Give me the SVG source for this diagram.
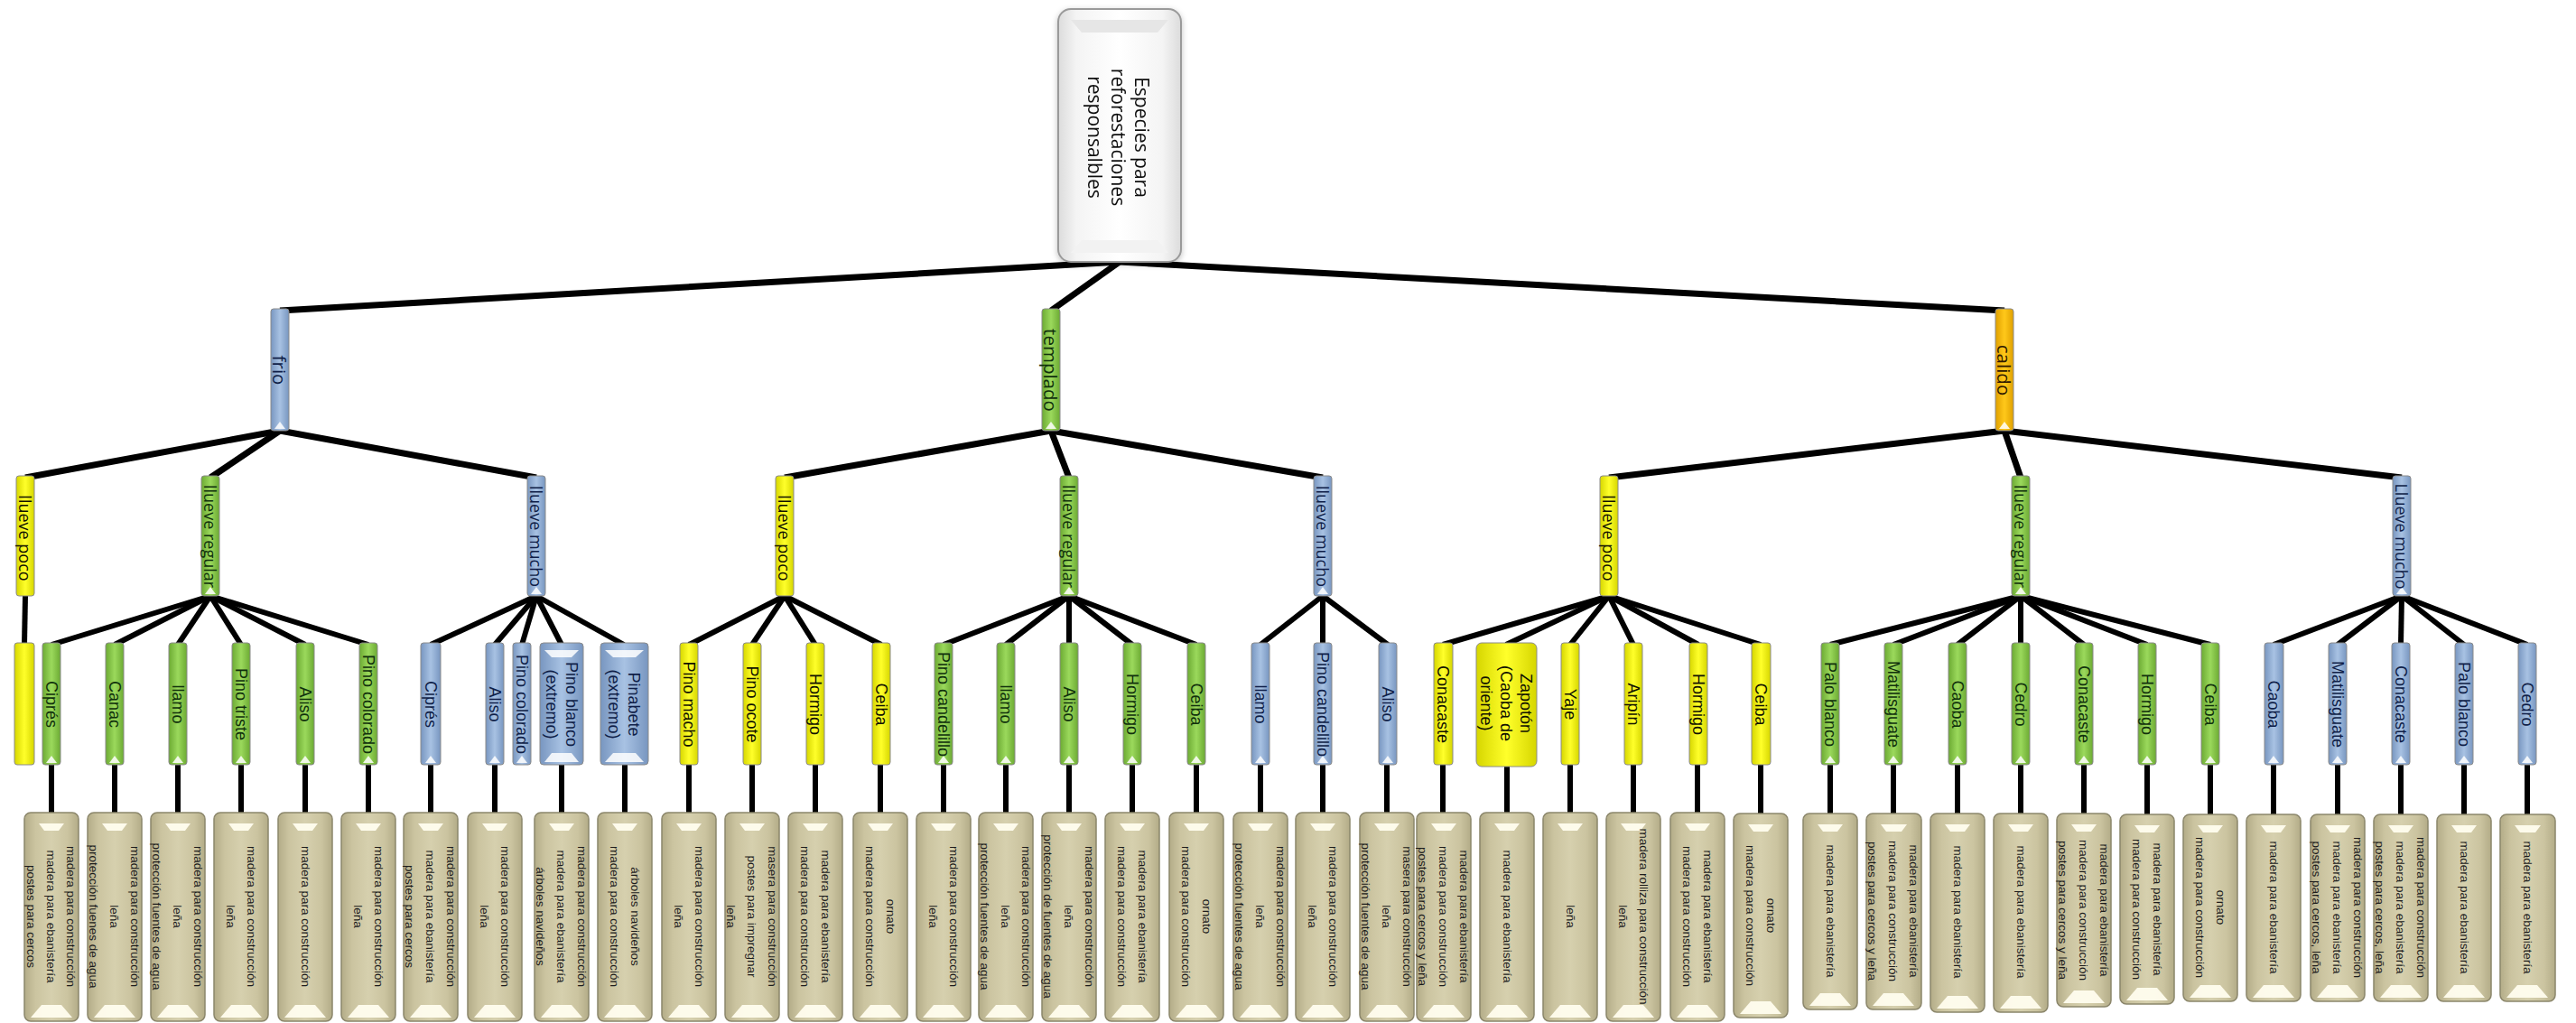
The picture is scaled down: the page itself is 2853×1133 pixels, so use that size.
<svg xmlns="http://www.w3.org/2000/svg" width="2853" height="1133" viewBox="0 0 2853 1133">
<defs>
<linearGradient id="gB" x1="0" y1="0" x2="1" y2="0"><stop offset="0" stop-color="#7896C0"/><stop offset="0.5" stop-color="#A8C2E3"/><stop offset="1" stop-color="#7896C0"/></linearGradient>
<linearGradient id="gG" x1="0" y1="0" x2="1" y2="0"><stop offset="0" stop-color="#6CAA33"/><stop offset="0.5" stop-color="#9BD95C"/><stop offset="1" stop-color="#6CAA33"/></linearGradient>
<linearGradient id="gY" x1="0" y1="0" x2="1" y2="0"><stop offset="0" stop-color="#D6D600"/><stop offset="0.5" stop-color="#FFFF2A"/><stop offset="1" stop-color="#D6D600"/></linearGradient>
<linearGradient id="gO" x1="0" y1="0" x2="1" y2="0"><stop offset="0" stop-color="#E0A000"/><stop offset="0.5" stop-color="#FFC81A"/><stop offset="1" stop-color="#E0A000"/></linearGradient>
<linearGradient id="gT" x1="0" y1="0" x2="1" y2="0"><stop offset="0" stop-color="#B3AC88"/><stop offset="0.2" stop-color="#CBC4A0"/><stop offset="0.5" stop-color="#D6D0AE"/><stop offset="0.8" stop-color="#CBC4A0"/><stop offset="1" stop-color="#B3AC88"/></linearGradient>
<linearGradient id="gR" x1="0" y1="0" x2="1" y2="0"><stop offset="0" stop-color="#DCDCDC"/><stop offset="0.15" stop-color="#F4F4F4"/><stop offset="0.5" stop-color="#FFFFFF"/><stop offset="0.85" stop-color="#F4F4F4"/><stop offset="1" stop-color="#DCDCDC"/></linearGradient>
<filter id="sh" x="-20%" y="-20%" width="140%" height="140%"><feDropShadow dx="0" dy="2" stdDeviation="3" flood-color="#000" flood-opacity="0.25"/></filter>
</defs>
<style>
.c1 line{stroke:#000;stroke-width:7}
.c2 line{stroke:#000;stroke-width:6}
.bar{stroke:#8a8a8a;stroke-width:1}
.b{fill:url(#gB)}.g{fill:url(#gG)}.y{fill:url(#gY)}.o{fill:url(#gO)}
.hl{fill:#FFFFFF;opacity:0.85}
.lf{fill:url(#gT);stroke:#8B866B;stroke-width:1.5}
.lh{fill:#FFFDEE;opacity:0.95}
.tx{text-anchor:middle;dominant-baseline:central}
.lt{font-family:"Liberation Sans",Arial,sans-serif;font-size:13.5px;fill:#1C1C1C}
.st{font-family:"Liberation Sans",Arial,sans-serif;font-size:18px}
.l2{font-family:"Open Sans",sans-serif;font-size:18px}
.l1{font-family:"Open Sans",sans-serif;font-size:20.5px}
.rt{font-family:"Open Sans",sans-serif;font-size:21px;fill:#111}
.tb{fill:#0F1E48}.tg{fill:#10300C}.ty{fill:#111100}.to{fill:#2E1800}
</style>

<g id="connectors">
<g class="c1">
<line x1="1240" y1="290" x2="310" y2="344"/>
<line x1="1240" y1="290" x2="1164" y2="344"/>
<line x1="1240" y1="290" x2="2220" y2="344"/>
<line x1="310" y1="477" x2="28" y2="529"/>
<line x1="310" y1="477" x2="233" y2="529"/>
<line x1="310" y1="477" x2="594" y2="529"/>
<line x1="1164" y1="477" x2="869" y2="529"/>
<line x1="1164" y1="477" x2="1184" y2="529"/>
<line x1="1164" y1="477" x2="1465" y2="529"/>
<line x1="2220" y1="477" x2="1782" y2="529"/>
<line x1="2220" y1="477" x2="2238" y2="529"/>
<line x1="2220" y1="477" x2="2660" y2="529"/>
</g>
<g class="c2">
<line x1="28" y1="660" x2="27" y2="714"/>
<line x1="233" y1="660" x2="57" y2="714"/>
<line x1="233" y1="660" x2="127" y2="714"/>
<line x1="233" y1="660" x2="197" y2="714"/>
<line x1="233" y1="660" x2="267" y2="714"/>
<line x1="233" y1="660" x2="338" y2="714"/>
<line x1="233" y1="660" x2="408" y2="714"/>
<line x1="594" y1="660" x2="477" y2="714"/>
<line x1="594" y1="660" x2="548" y2="714"/>
<line x1="594" y1="660" x2="578" y2="714"/>
<line x1="594" y1="660" x2="622" y2="714"/>
<line x1="594" y1="660" x2="691" y2="714"/>
<line x1="869" y1="660" x2="763" y2="714"/>
<line x1="869" y1="660" x2="833" y2="714"/>
<line x1="869" y1="660" x2="903" y2="714"/>
<line x1="869" y1="660" x2="976" y2="714"/>
<line x1="1184" y1="660" x2="1045" y2="714"/>
<line x1="1184" y1="660" x2="1114" y2="714"/>
<line x1="1184" y1="660" x2="1184" y2="714"/>
<line x1="1184" y1="660" x2="1254" y2="714"/>
<line x1="1184" y1="660" x2="1325" y2="714"/>
<line x1="1465" y1="660" x2="1396" y2="714"/>
<line x1="1465" y1="660" x2="1465" y2="714"/>
<line x1="1465" y1="660" x2="1537" y2="714"/>
<line x1="1782" y1="660" x2="1598" y2="714"/>
<line x1="1782" y1="660" x2="1668" y2="714"/>
<line x1="1782" y1="660" x2="1739" y2="714"/>
<line x1="1782" y1="660" x2="1809" y2="714"/>
<line x1="1782" y1="660" x2="1881" y2="714"/>
<line x1="1782" y1="660" x2="1950" y2="714"/>
<line x1="2238" y1="660" x2="2027" y2="714"/>
<line x1="2238" y1="660" x2="2097" y2="714"/>
<line x1="2238" y1="660" x2="2168" y2="714"/>
<line x1="2238" y1="660" x2="2238" y2="714"/>
<line x1="2238" y1="660" x2="2308" y2="714"/>
<line x1="2238" y1="660" x2="2378" y2="714"/>
<line x1="2238" y1="660" x2="2448" y2="714"/>
<line x1="2660" y1="660" x2="2518" y2="714"/>
<line x1="2660" y1="660" x2="2589" y2="714"/>
<line x1="2660" y1="660" x2="2659" y2="714"/>
<line x1="2660" y1="660" x2="2729" y2="714"/>
<line x1="2660" y1="660" x2="2799" y2="714"/>
<line x1="57" y1="846" x2="57" y2="902"/>
<line x1="127" y1="846" x2="127" y2="902"/>
<line x1="197" y1="846" x2="197" y2="902"/>
<line x1="267" y1="846" x2="267" y2="902"/>
<line x1="338" y1="846" x2="338" y2="902"/>
<line x1="408" y1="846" x2="408" y2="902"/>
<line x1="477" y1="846" x2="477" y2="902"/>
<line x1="548" y1="846" x2="548" y2="902"/>
<line x1="622" y1="846" x2="622" y2="902"/>
<line x1="692" y1="846" x2="692" y2="902"/>
<line x1="763" y1="846" x2="763" y2="902"/>
<line x1="833" y1="846" x2="833" y2="902"/>
<line x1="903" y1="846" x2="903" y2="902"/>
<line x1="975" y1="846" x2="975" y2="902"/>
<line x1="1045" y1="846" x2="1045" y2="902"/>
<line x1="1114" y1="846" x2="1114" y2="902"/>
<line x1="1184" y1="846" x2="1184" y2="902"/>
<line x1="1254" y1="846" x2="1254" y2="902"/>
<line x1="1325" y1="846" x2="1325" y2="902"/>
<line x1="1396" y1="846" x2="1396" y2="902"/>
<line x1="1465" y1="846" x2="1465" y2="902"/>
<line x1="1536" y1="846" x2="1536" y2="902"/>
<line x1="1598" y1="846" x2="1598" y2="902"/>
<line x1="1669" y1="846" x2="1669" y2="902"/>
<line x1="1739" y1="846" x2="1739" y2="902"/>
<line x1="1809" y1="846" x2="1809" y2="902"/>
<line x1="1880" y1="846" x2="1880" y2="902"/>
<line x1="1950" y1="846" x2="1950" y2="902"/>
<line x1="2027" y1="846" x2="2027" y2="902"/>
<line x1="2097" y1="846" x2="2097" y2="902"/>
<line x1="2168" y1="846" x2="2168" y2="902"/>
<line x1="2238" y1="846" x2="2238" y2="902"/>
<line x1="2308" y1="846" x2="2308" y2="902"/>
<line x1="2378" y1="846" x2="2378" y2="902"/>
<line x1="2448" y1="846" x2="2448" y2="902"/>
<line x1="2518" y1="846" x2="2518" y2="902"/>
<line x1="2589" y1="846" x2="2589" y2="902"/>
<line x1="2659" y1="846" x2="2659" y2="902"/>
<line x1="2729" y1="846" x2="2729" y2="902"/>
<line x1="2799" y1="846" x2="2799" y2="902"/>
</g>
</g>

<g id="root" filter="url(#sh)">
<rect x="1172" y="10" width="136" height="280" rx="14" fill="url(#gR)" stroke="#9A9A9A" stroke-width="2"/>
<polygon points="1186,22 1294,22 1282,36 1198,36" fill="#E6E6E6"/>
<polygon points="1198,266 1282,266 1294,280 1186,280" fill="#F2F2F2"/>
<text class="rt tx" transform="translate(1239,152) rotate(90)"><tspan x="0" y="-26">Especies para</tspan><tspan x="0" y="0">reforestaciones</tspan><tspan x="0" y="26">responsalbles</tspan></text>
</g>

<g id="frio"><rect class="bar b" x="300" y="342" width="20" height="135" rx="3"/><polygon class="hl" points="304,475 310,467 316,475"/><text class="l1 tx tb" transform="translate(310,410) rotate(90)">frio</text></g>
<g id="templado"><rect class="bar g" x="1154" y="342" width="20" height="135" rx="3"/><polygon class="hl" points="1158,475 1164,467 1170,475"/><text class="l1 tx tg" transform="translate(1164,410) rotate(90)">templado</text></g>
<g id="calido"><rect class="bar o" x="2210" y="342" width="20" height="135" rx="3"/><polygon class="hl" points="2214,475 2220,467 2226,475"/><text class="l1 tx to" transform="translate(2220,410) rotate(90)">calido</text></g>

<g id="frio-poco"><rect class="bar y" x="18" y="527" width="20" height="133" rx="3"/><text class="l2 tx ty" transform="translate(28,596) rotate(90)">llueve poco</text></g>
<g id="frio-regular"><rect class="bar g" x="223" y="527" width="20" height="133" rx="3"/><polygon class="hl" points="227,658 233,650 239,658"/><text class="l2 tx tg" transform="translate(233,594) rotate(90)">llueve regular</text></g>
<g id="frio-mucho"><rect class="bar b" x="584" y="527" width="20" height="133" rx="3"/><polygon class="hl" points="588,658 594,650 600,658"/><text class="l2 tx tb" transform="translate(594,594) rotate(90)">llueve mucho</text></g>
<g id="templado-poco"><rect class="bar y" x="859" y="527" width="20" height="133" rx="3"/><text class="l2 tx ty" transform="translate(869,596) rotate(90)">llueve poco</text></g>
<g id="templado-regular"><rect class="bar g" x="1174" y="527" width="20" height="133" rx="3"/><polygon class="hl" points="1178,658 1184,650 1190,658"/><text class="l2 tx tg" transform="translate(1184,594) rotate(90)">llueve regular</text></g>
<g id="templado-mucho"><rect class="bar b" x="1455" y="527" width="20" height="133" rx="3"/><polygon class="hl" points="1459,658 1465,650 1471,658"/><text class="l2 tx tb" transform="translate(1465,594) rotate(90)">llueve mucho</text></g>
<g id="calido-poco"><rect class="bar y" x="1772" y="527" width="20" height="133" rx="3"/><text class="l2 tx ty" transform="translate(1782,596) rotate(90)">llueve poco</text></g>
<g id="calido-regular"><rect class="bar g" x="2228" y="527" width="20" height="133" rx="3"/><polygon class="hl" points="2232,658 2238,650 2244,658"/><text class="l2 tx tg" transform="translate(2238,594) rotate(90)">llueve regular</text></g>
<g id="calido-mucho"><rect class="bar b" x="2650" y="527" width="20" height="133" rx="3"/><polygon class="hl" points="2654,658 2660,650 2666,658"/><text class="l2 tx tb" transform="translate(2660,594) rotate(90)">Llueve mucho</text></g>

<g id="s0"><rect class="bar y" x="16" y="712" width="22" height="135" rx="3"/></g>
<g id="s1"><rect class="bar g" x="47" y="712" width="20" height="135" rx="3"/><polygon class="hl" points="51,845 57,837 63,845"/><text class="st tx tg" transform="translate(57,780) rotate(90)">Ciprés</text></g>
<g id="s2"><rect class="bar g" x="117" y="712" width="20" height="135" rx="3"/><polygon class="hl" points="121,845 127,837 133,845"/><text class="st tx tg" transform="translate(127,780) rotate(90)">Canac</text></g>
<g id="s3"><rect class="bar g" x="187" y="712" width="20" height="135" rx="3"/><polygon class="hl" points="191,845 197,837 203,845"/><text class="st tx tg" transform="translate(197,780) rotate(90)">llamo</text></g>
<g id="s4"><rect class="bar g" x="257" y="712" width="20" height="135" rx="3"/><polygon class="hl" points="261,845 267,837 273,845"/><text class="st tx tg" transform="translate(267,780) rotate(90)">Pino triste</text></g>
<g id="s5"><rect class="bar g" x="328" y="712" width="20" height="135" rx="3"/><polygon class="hl" points="332,845 338,837 344,845"/><text class="st tx tg" transform="translate(338,780) rotate(90)">Aliso</text></g>
<g id="s6"><rect class="bar g" x="398" y="712" width="20" height="135" rx="3"/><polygon class="hl" points="402,845 408,837 414,845"/><text class="st tx tg" transform="translate(408,780) rotate(90)">Pino colorado</text></g>
<g id="s7"><rect class="bar b" x="466" y="712" width="22" height="135" rx="3"/><polygon class="hl" points="471,845 477,837 483,845"/><text class="st tx tb" transform="translate(477,780) rotate(90)">Ciprés</text></g>
<g id="s8"><rect class="bar b" x="538" y="712" width="20" height="135" rx="3"/><polygon class="hl" points="542,845 548,837 554,845"/><text class="st tx tb" transform="translate(548,780) rotate(90)">Aliso</text></g>
<g id="s9"><rect class="bar b" x="568" y="712" width="20" height="135" rx="3"/><polygon class="hl" points="572,845 578,837 584,845"/><text class="st tx tb" transform="translate(578,780) rotate(90)">Pino colorado</text></g>
<g id="s10"><rect class="bar b" x="598" y="712" width="48" height="135" rx="4"/><polygon class="hl" points="603,720 641,720 633,728 611,728"/><polygon class="hl" points="611,834 633,834 641,844 603,844"/><text class="st tx tb" transform="translate(622,780) rotate(90)"><tspan x="0" y="-11">Pino blanco</tspan><tspan x="0" y="11">(extremo)</tspan></text></g>
<g id="s11"><rect class="bar b" x="665" y="712" width="53" height="135" rx="4"/><polygon class="hl" points="670,720 713,720 704,728 679,728"/><polygon class="hl" points="679,834 704,834 713,844 670,844"/><text class="st tx tb" transform="translate(691,780) rotate(90)"><tspan x="0" y="-11">Pinabete</tspan><tspan x="0" y="11">(extremo)</tspan></text></g>
<g id="s12"><rect class="bar y" x="753" y="712" width="20" height="135" rx="3"/><text class="st tx ty" transform="translate(763,780) rotate(90)">Pino macho</text></g>
<g id="s13"><rect class="bar y" x="823" y="712" width="20" height="135" rx="3"/><text class="st tx ty" transform="translate(833,780) rotate(90)">Pino ocote</text></g>
<g id="s14"><rect class="bar y" x="893" y="712" width="20" height="135" rx="3"/><text class="st tx ty" transform="translate(903,780) rotate(90)">Hormigo</text></g>
<g id="s15"><rect class="bar y" x="966" y="712" width="20" height="135" rx="3"/><text class="st tx ty" transform="translate(976,780) rotate(90)">Ceiba</text></g>
<g id="s16"><rect class="bar g" x="1035" y="712" width="20" height="135" rx="3"/><polygon class="hl" points="1039,845 1045,837 1051,845"/><text class="st tx tg" transform="translate(1045,780) rotate(90)">Pino candelillo</text></g>
<g id="s17"><rect class="bar g" x="1104" y="712" width="20" height="135" rx="3"/><polygon class="hl" points="1108,845 1114,837 1120,845"/><text class="st tx tg" transform="translate(1114,780) rotate(90)">llamo</text></g>
<g id="s18"><rect class="bar g" x="1174" y="712" width="20" height="135" rx="3"/><polygon class="hl" points="1178,845 1184,837 1190,845"/><text class="st tx tg" transform="translate(1184,780) rotate(90)">Aliso</text></g>
<g id="s19"><rect class="bar g" x="1244" y="712" width="20" height="135" rx="3"/><polygon class="hl" points="1248,845 1254,837 1260,845"/><text class="st tx tg" transform="translate(1254,780) rotate(90)">Hormigo</text></g>
<g id="s20"><rect class="bar g" x="1315" y="712" width="20" height="135" rx="3"/><polygon class="hl" points="1319,845 1325,837 1331,845"/><text class="st tx tg" transform="translate(1325,780) rotate(90)">Ceiba</text></g>
<g id="s21"><rect class="bar b" x="1386" y="712" width="20" height="135" rx="3"/><polygon class="hl" points="1390,845 1396,837 1402,845"/><text class="st tx tb" transform="translate(1396,780) rotate(90)">llamo</text></g>
<g id="s22"><rect class="bar b" x="1455" y="712" width="20" height="135" rx="3"/><polygon class="hl" points="1459,845 1465,837 1471,845"/><text class="st tx tb" transform="translate(1465,780) rotate(90)">Pino candelillo</text></g>
<g id="s23"><rect class="bar b" x="1527" y="712" width="20" height="135" rx="3"/><polygon class="hl" points="1531,845 1537,837 1543,845"/><text class="st tx tb" transform="translate(1537,780) rotate(90)">Aliso</text></g>
<g id="s24"><rect class="bar y" x="1588" y="712" width="21" height="135" rx="3"/><text class="st tx ty" transform="translate(1598,780) rotate(90)">Conacaste</text></g>
<g id="s25"><rect class="bar y" x="1635" y="712" width="67" height="137" rx="6"/><text class="st tx ty" transform="translate(1668,779) rotate(90)"><tspan x="0" y="-22">Zapotón</tspan><tspan x="0" y="0">(Caoba de</tspan><tspan x="0" y="22">oriente)</tspan></text></g>
<g id="s26"><rect class="bar y" x="1729" y="712" width="20" height="135" rx="3"/><text class="st tx ty" transform="translate(1739,780) rotate(90)">Yaje</text></g>
<g id="s27"><rect class="bar y" x="1799" y="712" width="20" height="135" rx="3"/><text class="st tx ty" transform="translate(1809,780) rotate(90)">Aripín</text></g>
<g id="s28"><rect class="bar y" x="1871" y="712" width="20" height="135" rx="3"/><text class="st tx ty" transform="translate(1881,780) rotate(90)">Hormigo</text></g>
<g id="s29"><rect class="bar y" x="1940" y="712" width="21" height="135" rx="3"/><text class="st tx ty" transform="translate(1950,780) rotate(90)">Ceiba</text></g>
<g id="s30"><rect class="bar g" x="2017" y="712" width="20" height="135" rx="3"/><polygon class="hl" points="2021,845 2027,837 2033,845"/><text class="st tx tg" transform="translate(2027,780) rotate(90)">Palo blanco</text></g>
<g id="s31"><rect class="bar g" x="2087" y="712" width="20" height="135" rx="3"/><polygon class="hl" points="2091,845 2097,837 2103,845"/><text class="st tx tg" transform="translate(2097,780) rotate(90)">Matilisguate</text></g>
<g id="s32"><rect class="bar g" x="2158" y="712" width="20" height="135" rx="3"/><polygon class="hl" points="2162,845 2168,837 2174,845"/><text class="st tx tg" transform="translate(2168,780) rotate(90)">Caoba</text></g>
<g id="s33"><rect class="bar g" x="2228" y="712" width="20" height="135" rx="3"/><polygon class="hl" points="2232,845 2238,837 2244,845"/><text class="st tx tg" transform="translate(2238,780) rotate(90)">Cedro</text></g>
<g id="s34"><rect class="bar g" x="2298" y="712" width="20" height="135" rx="3"/><polygon class="hl" points="2302,845 2308,837 2314,845"/><text class="st tx tg" transform="translate(2308,780) rotate(90)">Conacaste</text></g>
<g id="s35"><rect class="bar g" x="2368" y="712" width="20" height="135" rx="3"/><polygon class="hl" points="2372,845 2378,837 2384,845"/><text class="st tx tg" transform="translate(2378,780) rotate(90)">Hormigo</text></g>
<g id="s36"><rect class="bar g" x="2438" y="712" width="20" height="135" rx="3"/><polygon class="hl" points="2442,845 2448,837 2454,845"/><text class="st tx tg" transform="translate(2448,780) rotate(90)">Ceiba</text></g>
<g id="s37"><rect class="bar b" x="2508" y="712" width="21" height="135" rx="3"/><polygon class="hl" points="2512,845 2518,837 2524,845"/><text class="st tx tb" transform="translate(2518,780) rotate(90)">Caoba</text></g>
<g id="s38"><rect class="bar b" x="2579" y="712" width="20" height="135" rx="3"/><polygon class="hl" points="2583,845 2589,837 2595,845"/><text class="st tx tb" transform="translate(2589,780) rotate(90)">Matilisguate</text></g>
<g id="s39"><rect class="bar b" x="2649" y="712" width="20" height="135" rx="3"/><polygon class="hl" points="2653,845 2659,837 2665,845"/><text class="st tx tb" transform="translate(2659,780) rotate(90)">Conacaste</text></g>
<g id="s40"><rect class="bar b" x="2719" y="712" width="20" height="135" rx="3"/><polygon class="hl" points="2723,845 2729,837 2735,845"/><text class="st tx tb" transform="translate(2729,780) rotate(90)">Palo blanco</text></g>
<g id="s41"><rect class="bar b" x="2789" y="712" width="20" height="135" rx="3"/><polygon class="hl" points="2793,845 2799,837 2805,845"/><text class="st tx tb" transform="translate(2799,780) rotate(90)">Cedro</text></g>

<g id="l1"><rect class="lf" x="27" y="900" width="60" height="231" rx="7"/><polygon class="lh" points="43,912 71,912 65,920 49,920"/><polygon class="lh" points="46,1113 68,1113 80,1127 34,1127"/><text class="lt tx" transform="translate(57,1015) rotate(90)"><tspan x="0" y="-22">madera para construcción</tspan><tspan x="0" y="0">madera para ebanistería</tspan><tspan x="0" y="22">postes para cercos</tspan></text></g>
<g id="l2"><rect class="lf" x="97" y="900" width="60" height="231" rx="7"/><polygon class="lh" points="113,912 141,912 135,920 119,920"/><polygon class="lh" points="116,1113 138,1113 150,1127 104,1127"/><text class="lt tx" transform="translate(127,1015) rotate(90)"><tspan x="0" y="-23">madera para construcción</tspan><tspan x="0" y="0">leña</tspan><tspan x="0" y="23">protección fuenes de agua</tspan></text></g>
<g id="l3"><rect class="lf" x="167" y="900" width="60" height="231" rx="7"/><polygon class="lh" points="183,912 211,912 205,920 189,920"/><polygon class="lh" points="186,1113 208,1113 220,1127 174,1127"/><text class="lt tx" transform="translate(197,1015) rotate(90)"><tspan x="0" y="-23">madera para construcción</tspan><tspan x="0" y="0">leña</tspan><tspan x="0" y="23">protección fuentes de agua</tspan></text></g>
<g id="l4"><rect class="lf" x="237" y="900" width="60" height="231" rx="7"/><polygon class="lh" points="253,912 281,912 275,920 259,920"/><polygon class="lh" points="256,1113 278,1113 290,1127 244,1127"/><text class="lt tx" transform="translate(267,1015) rotate(90)"><tspan x="0" y="-11.5">madera para construcción</tspan><tspan x="0" y="11.5">leña</tspan></text></g>
<g id="l5"><rect class="lf" x="308" y="900" width="60" height="231" rx="7"/><polygon class="lh" points="324,912 352,912 346,920 330,920"/><polygon class="lh" points="327,1113 349,1113 361,1127 315,1127"/><text class="lt tx" transform="translate(338,1015) rotate(90)">madera para construcción</text></g>
<g id="l6"><rect class="lf" x="378" y="900" width="60" height="231" rx="7"/><polygon class="lh" points="394,912 422,912 416,920 400,920"/><polygon class="lh" points="397,1113 419,1113 431,1127 385,1127"/><text class="lt tx" transform="translate(408,1015) rotate(90)"><tspan x="0" y="-11.5">madera para construcción</tspan><tspan x="0" y="11.5">leña</tspan></text></g>
<g id="l7"><rect class="lf" x="447" y="900" width="60" height="231" rx="7"/><polygon class="lh" points="463,912 491,912 485,920 469,920"/><polygon class="lh" points="466,1113 488,1113 500,1127 454,1127"/><text class="lt tx" transform="translate(477,1015) rotate(90)"><tspan x="0" y="-23">madera para construcción</tspan><tspan x="0" y="0">madera para ebanistería</tspan><tspan x="0" y="23">postes para cercos</tspan></text></g>
<g id="l8"><rect class="lf" x="518" y="900" width="60" height="231" rx="7"/><polygon class="lh" points="534,912 562,912 556,920 540,920"/><polygon class="lh" points="537,1113 559,1113 571,1127 525,1127"/><text class="lt tx" transform="translate(548,1015) rotate(90)"><tspan x="0" y="-11.5">madera para construcción</tspan><tspan x="0" y="11.5">leña</tspan></text></g>
<g id="l10"><rect class="lf" x="592" y="900" width="60" height="231" rx="7"/><polygon class="lh" points="608,912 636,912 630,920 614,920"/><polygon class="lh" points="611,1113 633,1113 645,1127 599,1127"/><text class="lt tx" transform="translate(622,1015) rotate(90)"><tspan x="0" y="-23">madera para construcción</tspan><tspan x="0" y="0">madera para ebanistería</tspan><tspan x="0" y="23">árboles navideños</tspan></text></g>
<g id="l11"><rect class="lf" x="662" y="900" width="60" height="231" rx="7"/><polygon class="lh" points="678,912 706,912 700,920 684,920"/><polygon class="lh" points="681,1113 703,1113 715,1127 669,1127"/><text class="lt tx" transform="translate(692,1015) rotate(90)"><tspan x="0" y="-11.5">árboles navideños</tspan><tspan x="0" y="11.5">madera para construcción</tspan></text></g>
<g id="l12"><rect class="lf" x="733" y="900" width="60" height="231" rx="7"/><polygon class="lh" points="749,912 777,912 771,920 755,920"/><polygon class="lh" points="752,1113 774,1113 786,1127 740,1127"/><text class="lt tx" transform="translate(763,1015) rotate(90)"><tspan x="0" y="-11.5">madera para construcción</tspan><tspan x="0" y="11.5">leña</tspan></text></g>
<g id="l13"><rect class="lf" x="803" y="900" width="60" height="231" rx="7"/><polygon class="lh" points="819,912 847,912 841,920 825,920"/><polygon class="lh" points="822,1113 844,1113 856,1127 810,1127"/><text class="lt tx" transform="translate(833,1015) rotate(90)"><tspan x="0" y="-23">masera para construcción</tspan><tspan x="0" y="0">postes para impregnar</tspan><tspan x="0" y="23">leña</tspan></text></g>
<g id="l14"><rect class="lf" x="873" y="900" width="60" height="231" rx="7"/><polygon class="lh" points="889,912 917,912 911,920 895,920"/><polygon class="lh" points="892,1113 914,1113 926,1127 880,1127"/><text class="lt tx" transform="translate(903,1015) rotate(90)"><tspan x="0" y="-11.5">madera para ebanistería</tspan><tspan x="0" y="11.5">madera para construcción</tspan></text></g>
<g id="l15"><rect class="lf" x="945" y="900" width="60" height="231" rx="7"/><polygon class="lh" points="961,912 989,912 983,920 967,920"/><polygon class="lh" points="964,1113 986,1113 998,1127 952,1127"/><text class="lt tx" transform="translate(975,1015) rotate(90)"><tspan x="0" y="-11.5">ornato</tspan><tspan x="0" y="11.5">madera para construcción</tspan></text></g>
<g id="l16"><rect class="lf" x="1015" y="900" width="60" height="231" rx="7"/><polygon class="lh" points="1031,912 1059,912 1053,920 1037,920"/><polygon class="lh" points="1034,1113 1056,1113 1068,1127 1022,1127"/><text class="lt tx" transform="translate(1045,1015) rotate(90)"><tspan x="0" y="-11.5">madera para construcción</tspan><tspan x="0" y="11.5">leña</tspan></text></g>
<g id="l17"><rect class="lf" x="1084" y="900" width="60" height="231" rx="7"/><polygon class="lh" points="1100,912 1128,912 1122,920 1106,920"/><polygon class="lh" points="1103,1113 1125,1113 1137,1127 1091,1127"/><text class="lt tx" transform="translate(1114,1015) rotate(90)"><tspan x="0" y="-23">madera para construcción</tspan><tspan x="0" y="0">leña</tspan><tspan x="0" y="23">protección fuentes de agua</tspan></text></g>
<g id="l18"><rect class="lf" x="1154" y="900" width="60" height="231" rx="7"/><polygon class="lh" points="1170,912 1198,912 1192,920 1176,920"/><polygon class="lh" points="1173,1113 1195,1113 1207,1127 1161,1127"/><text class="lt tx" transform="translate(1184,1015) rotate(90)"><tspan x="0" y="-23">madera para construcción</tspan><tspan x="0" y="0">leña</tspan><tspan x="0" y="23">protección de fuentes de agua</tspan></text></g>
<g id="l19"><rect class="lf" x="1224" y="900" width="60" height="231" rx="7"/><polygon class="lh" points="1240,912 1268,912 1262,920 1246,920"/><polygon class="lh" points="1243,1113 1265,1113 1277,1127 1231,1127"/><text class="lt tx" transform="translate(1254,1015) rotate(90)"><tspan x="0" y="-11.5">madera para ebanistería</tspan><tspan x="0" y="11.5">madera para construcción</tspan></text></g>
<g id="l20"><rect class="lf" x="1295" y="900" width="60" height="231" rx="7"/><polygon class="lh" points="1311,912 1339,912 1333,920 1317,920"/><polygon class="lh" points="1314,1113 1336,1113 1348,1127 1302,1127"/><text class="lt tx" transform="translate(1325,1015) rotate(90)"><tspan x="0" y="-11.5">ornato</tspan><tspan x="0" y="11.5">madera para construcción</tspan></text></g>
<g id="l21"><rect class="lf" x="1366" y="900" width="60" height="231" rx="7"/><polygon class="lh" points="1382,912 1410,912 1404,920 1388,920"/><polygon class="lh" points="1385,1113 1407,1113 1419,1127 1373,1127"/><text class="lt tx" transform="translate(1396,1015) rotate(90)"><tspan x="0" y="-23">madera para construcción</tspan><tspan x="0" y="0">leña</tspan><tspan x="0" y="23">protección fuentes de agua</tspan></text></g>
<g id="l22"><rect class="lf" x="1435" y="900" width="60" height="231" rx="7"/><polygon class="lh" points="1451,912 1479,912 1473,920 1457,920"/><polygon class="lh" points="1454,1113 1476,1113 1488,1127 1442,1127"/><text class="lt tx" transform="translate(1465,1015) rotate(90)"><tspan x="0" y="-11.5">madera para construcción</tspan><tspan x="0" y="11.5">leña</tspan></text></g>
<g id="l23"><rect class="lf" x="1506" y="900" width="60" height="231" rx="7"/><polygon class="lh" points="1522,912 1550,912 1544,920 1528,920"/><polygon class="lh" points="1525,1113 1547,1113 1559,1127 1513,1127"/><text class="lt tx" transform="translate(1536,1015) rotate(90)"><tspan x="0" y="-23">masera para construcción</tspan><tspan x="0" y="0">leña</tspan><tspan x="0" y="23">protección fuentes de agua</tspan></text></g>
<g id="l24"><rect class="lf" x="1569" y="900" width="60" height="231" rx="7"/><polygon class="lh" points="1585,912 1613,912 1607,920 1591,920"/><polygon class="lh" points="1588,1113 1610,1113 1622,1127 1576,1127"/><text class="lt tx" transform="translate(1599,1015) rotate(90)"><tspan x="0" y="-23">madera para ebanistería</tspan><tspan x="0" y="0">madera para construcción</tspan><tspan x="0" y="23">postes para cercos y leña</tspan></text></g>
<g id="l25"><rect class="lf" x="1639" y="900" width="60" height="231" rx="7"/><polygon class="lh" points="1655,912 1683,912 1677,920 1661,920"/><polygon class="lh" points="1658,1113 1680,1113 1692,1127 1646,1127"/><text class="lt tx" transform="translate(1669,1015) rotate(90)">madera para ebanistería</text></g>
<g id="l26"><rect class="lf" x="1709" y="900" width="60" height="231" rx="7"/><polygon class="lh" points="1725,912 1753,912 1747,920 1731,920"/><polygon class="lh" points="1728,1113 1750,1113 1762,1127 1716,1127"/><text class="lt tx" transform="translate(1739,1015) rotate(90)">leña</text></g>
<g id="l27"><rect class="lf" x="1779" y="900" width="60" height="231" rx="7"/><polygon class="lh" points="1795,912 1823,912 1817,920 1801,920"/><polygon class="lh" points="1798,1113 1820,1113 1832,1127 1786,1127"/><text class="lt tx" transform="translate(1809,1015) rotate(90)"><tspan x="0" y="-11.5">madera rolliza para construcción</tspan><tspan x="0" y="11.5">leña</tspan></text></g>
<g id="l28"><rect class="lf" x="1850" y="900" width="60" height="231" rx="7"/><polygon class="lh" points="1866,912 1894,912 1888,920 1872,920"/><polygon class="lh" points="1869,1113 1891,1113 1903,1127 1857,1127"/><text class="lt tx" transform="translate(1880,1015) rotate(90)"><tspan x="0" y="-11.5">madera para ebanistería</tspan><tspan x="0" y="11.5">madera para construcción</tspan></text></g>
<g id="l29"><rect class="lf" x="1920" y="901" width="60" height="226" rx="7"/><polygon class="lh" points="1936,913 1964,913 1958,921 1942,921"/><polygon class="lh" points="1939,1109 1961,1109 1973,1123 1927,1123"/><text class="lt tx" transform="translate(1950,1014) rotate(90)"><tspan x="0" y="-11.5">ornato</tspan><tspan x="0" y="11.5">madera para construcción</tspan></text></g>
<g id="l30"><rect class="lf" x="1997" y="901" width="60" height="217" rx="7"/><polygon class="lh" points="2013,913 2041,913 2035,921 2019,921"/><polygon class="lh" points="2016,1100 2038,1100 2050,1114 2004,1114"/><text class="lt tx" transform="translate(2027,1009) rotate(90)">madera para ebanistería</text></g>
<g id="l31"><rect class="lf" x="2067" y="901" width="61" height="217" rx="7"/><polygon class="lh" points="2083,913 2112,913 2106,921 2089,921"/><polygon class="lh" points="2086,1100 2108,1100 2120,1114 2074,1114"/><text class="lt tx" transform="translate(2097,1009) rotate(90)"><tspan x="0" y="-23">madera para ebanistería</tspan><tspan x="0" y="0">madera para construcción</tspan><tspan x="0" y="23">postes para cercos y leña</tspan></text></g>
<g id="l32"><rect class="lf" x="2138" y="901" width="60" height="220" rx="7"/><polygon class="lh" points="2154,913 2182,913 2176,921 2160,921"/><polygon class="lh" points="2157,1103 2179,1103 2191,1117 2145,1117"/><text class="lt tx" transform="translate(2168,1010) rotate(90)">madera para ebanistería</text></g>
<g id="l33"><rect class="lf" x="2208" y="901" width="60" height="220" rx="7"/><polygon class="lh" points="2224,913 2252,913 2246,921 2230,921"/><polygon class="lh" points="2227,1103 2249,1103 2261,1117 2215,1117"/><text class="lt tx" transform="translate(2238,1010) rotate(90)">madera para ebanistería</text></g>
<g id="l34"><rect class="lf" x="2278" y="901" width="60" height="214" rx="7"/><polygon class="lh" points="2294,913 2322,913 2316,921 2300,921"/><polygon class="lh" points="2297,1097 2319,1097 2331,1111 2285,1111"/><text class="lt tx" transform="translate(2308,1008) rotate(90)"><tspan x="0" y="-23">madera para ebanistería</tspan><tspan x="0" y="0">madera para construcción</tspan><tspan x="0" y="23">postes para cercos y leña</tspan></text></g>
<g id="l35"><rect class="lf" x="2348" y="902" width="60" height="210" rx="7"/><polygon class="lh" points="2364,914 2392,914 2386,922 2370,922"/><polygon class="lh" points="2367,1094 2389,1094 2401,1108 2355,1108"/><text class="lt tx" transform="translate(2378,1007) rotate(90)"><tspan x="0" y="-11.5">madera para ebanistería</tspan><tspan x="0" y="11.5">madera para construcción</tspan></text></g>
<g id="l36"><rect class="lf" x="2418" y="902" width="60" height="207" rx="7"/><polygon class="lh" points="2434,914 2462,914 2456,922 2440,922"/><polygon class="lh" points="2437,1091 2459,1091 2471,1105 2425,1105"/><text class="lt tx" transform="translate(2448,1005) rotate(90)"><tspan x="0" y="-11.5">ornato</tspan><tspan x="0" y="11.5">madera para construcción</tspan></text></g>
<g id="l37"><rect class="lf" x="2488" y="902" width="60" height="207" rx="7"/><polygon class="lh" points="2504,914 2532,914 2526,922 2510,922"/><polygon class="lh" points="2507,1091 2529,1091 2541,1105 2495,1105"/><text class="lt tx" transform="translate(2518,1005) rotate(90)">madera para ebanistería</text></g>
<g id="l38"><rect class="lf" x="2559" y="902" width="60" height="207" rx="7"/><polygon class="lh" points="2575,914 2603,914 2597,922 2581,922"/><polygon class="lh" points="2578,1091 2600,1091 2612,1105 2566,1105"/><text class="lt tx" transform="translate(2589,1005) rotate(90)"><tspan x="0" y="-23">madera para construcción</tspan><tspan x="0" y="0">madera para ebanistería</tspan><tspan x="0" y="23">postes para cercos, leña</tspan></text></g>
<g id="l39"><rect class="lf" x="2629" y="902" width="60" height="207" rx="7"/><polygon class="lh" points="2645,914 2673,914 2667,922 2651,922"/><polygon class="lh" points="2648,1091 2670,1091 2682,1105 2636,1105"/><text class="lt tx" transform="translate(2659,1005) rotate(90)"><tspan x="0" y="-23">madera para construcción</tspan><tspan x="0" y="0">madera para ebanistería</tspan><tspan x="0" y="23">postes para cercos, leña</tspan></text></g>
<g id="l40"><rect class="lf" x="2699" y="902" width="60" height="207" rx="7"/><polygon class="lh" points="2715,914 2743,914 2737,922 2721,922"/><polygon class="lh" points="2718,1091 2740,1091 2752,1105 2706,1105"/><text class="lt tx" transform="translate(2729,1005) rotate(90)">madera para ebanistería</text></g>
<g id="l41"><rect class="lf" x="2769" y="902" width="61" height="207" rx="7"/><polygon class="lh" points="2785,914 2814,914 2808,922 2791,922"/><polygon class="lh" points="2788,1091 2810,1091 2822,1105 2776,1105"/><text class="lt tx" transform="translate(2799,1005) rotate(90)">madera para ebanistería</text></g>
</svg>
